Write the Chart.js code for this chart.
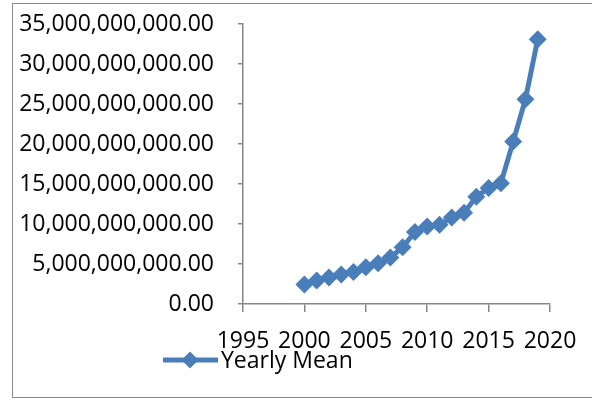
<!DOCTYPE html>
<html>
<head>
<meta charset="utf-8">
<script src="https://cdn.jsdelivr.net/npm/chart.js@4.4.1/dist/chart.umd.min.js"></script>
<style>
  html, body { margin: 0; padding: 0; background: #fff; }
  #wrap { position: relative; width: 592px; height: 400px; }
</style>
</head>
<body>
<div id="wrap"><canvas id="c" width="592" height="400"></canvas></div>
<script>
// Yearly mean values, in billions
const years = [2000, 2001, 2002, 2003, 2004, 2005, 2006, 2007, 2008, 2009,
               2010, 2011, 2012, 2013, 2014, 2015, 2016, 2017, 2018, 2019];
const yearlyMeanBillions = [2.45, 2.95, 3.3, 3.7, 4.0, 4.6, 5.1, 5.8, 7.1, 9.0,
                            9.7, 9.9, 10.8, 11.4, 13.4, 14.5, 15.1, 20.3, 25.6, 33.1];
const seriesName = 'Yearly Mean';
const xTicks = { min: 1995, max: 2020, step: 5 };
const yTicks = { min: 0, max: 35e9, step: 5e9 };

const blue = '#4A7EBB';
const axisGray = '#868686';
const font = { family: '"Open Sans", sans-serif', size: 23 };

const points = years.map((yr, i) => ({ x: yr, y: yearlyMeanBillions[i] * 1e9 }));

// Outer frame and the line-with-marker legend below the axis
const framePlugin = {
  id: 'frameAndLegend',
  afterDraw(chart) {
    const ctx = chart.ctx;
    ctx.save();
    ctx.strokeStyle = '#898989';
    ctx.lineWidth = 1;
    ctx.strokeRect(12.5, 3.5, 620, 394);

    const ly = 360;
    ctx.strokeStyle = blue;
    ctx.lineWidth = 5;
    ctx.beginPath();
    ctx.moveTo(163, ly);
    ctx.lineTo(218, ly);
    ctx.stroke();
    ctx.fillStyle = blue;
    ctx.beginPath();
    const r = 8.5, cx = 190;
    ctx.moveTo(cx, ly - r);
    ctx.lineTo(cx + r, ly);
    ctx.lineTo(cx, ly + r);
    ctx.lineTo(cx - r, ly);
    ctx.closePath();
    ctx.fill();

    ctx.fillStyle = '#000';
    ctx.font = font.size + 'px ' + font.family;
    ctx.textBaseline = 'middle';
    ctx.textAlign = 'left';
    ctx.fillText(seriesName, 221, ly + 1);
    ctx.restore();
  }
};

const plotTop = 24;

const chart = new Chart(document.getElementById('c'), {
  type: 'line',
  data: {
    datasets: [{
      label: seriesName,
      data: points,
      borderColor: blue,
      backgroundColor: blue,
      borderWidth: 5,
      tension: 0,
      pointStyle: 'rectRot',
      pointRadius: 9,
      pointBorderWidth: 0,
      pointBackgroundColor: blue,
      clip: false
    }]
  },
  options: {
    responsive: false,
    animation: false,
    events: [],
    layout: { autoPadding: false, padding: { left: 0, top: plotTop, right: 42, bottom: 0 } },
    plugins: {
      legend: { display: false },
      tooltip: { enabled: false }
    },
    scales: {
      x: {
        type: 'linear',
        min: xTicks.min,
        max: xTicks.max,
        border: { color: axisGray, width: 1.5 },
        grid: { drawOnChartArea: false, drawTicks: true, tickLength: 8, color: axisGray, lineWidth: 1.5 },
        ticks: {
          stepSize: xTicks.step,
          color: '#000',
          font: font,
          padding: 16,
          maxRotation: 0,
          callback: v => String(v)
        },
        afterFit(scale) {
          scale.height = 96;
          scale.paddingLeft = 0;
          scale.paddingRight = 0;
        }
      },
      y: {
        min: yTicks.min,
        max: yTicks.max,
        border: { color: axisGray, width: 1.5 },
        grid: { drawOnChartArea: false, drawTicks: true, tickLength: 5, color: axisGray, lineWidth: 1.5 },
        ticks: {
          stepSize: yTicks.step,
          color: '#000',
          font: font,
          padding: 24,
          callback: v => v.toLocaleString('en-US', { minimumFractionDigits: 2, maximumFractionDigits: 2 })
        },
        afterFit(scale) {
          scale.width = 243;
          scale.paddingTop = 0;
          scale.paddingBottom = 0;
        }
      }
    }
  },
  plugins: [framePlugin]
});

// Keep the plot's top edge where the layout expects it
const dt = chart.chartArea.top - plotTop;
if (Math.abs(dt) > 0.5) {
  chart.options.layout.padding.top = plotTop - dt;
  chart.update();
}
</script>
</body>
</html>
